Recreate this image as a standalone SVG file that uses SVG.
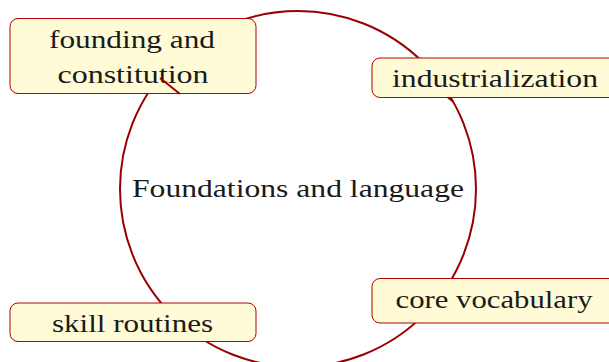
<svg xmlns="http://www.w3.org/2000/svg" width="609" height="362" viewBox="0 0 609 362">
<style>
.edge{fill:none;stroke:#990000;stroke-width:2}
.box{fill:#fffbd6;stroke:#b30000;stroke-width:1}
.t{font-family:"Liberation Serif","DejaVu Serif",serif;font-size:25px;fill:#1a1a1a;text-anchor:middle}
</style>
<rect width="609" height="362" fill="#ffffff"/>
<g id="connectors">
<circle class="edge" cx="298" cy="189" r="178"/>
</g>
<g id="center">
<text class="t" x="298" y="197" textLength="332" lengthAdjust="spacingAndGlyphs">Foundations and language</text>
</g>
<g id="founding">
<rect class="box" x="10" y="18.5" width="246" height="75" rx="8"/>
<text class="t" x="132" y="48" textLength="166" lengthAdjust="spacingAndGlyphs">founding and</text>
<text class="t" x="133" y="83" textLength="151" lengthAdjust="spacingAndGlyphs">constitution</text>
</g>
<g id="industrialization">
<rect class="box" x="372" y="58" width="246" height="39.5" rx="8"/>
<text class="t" x="495" y="87" textLength="206" lengthAdjust="spacingAndGlyphs">industrialization</text>
</g>
<g id="core">
<rect class="box" x="372" y="278.5" width="246" height="44.5" rx="8"/>
<text class="t" x="494" y="308" textLength="197" lengthAdjust="spacingAndGlyphs">core vocabulary</text>
</g>
<g id="skill">
<rect class="box" x="10" y="303" width="246" height="38.5" rx="8"/>
<text class="t" x="132.5" y="332" textLength="161" lengthAdjust="spacingAndGlyphs">skill routines</text>
</g>
<g id="marks">
<line class="edge" x1="160" y1="78" x2="180" y2="94"/>
<line class="edge" x1="448" y1="97.5" x2="453" y2="101.5"/>
</g>
</svg>
